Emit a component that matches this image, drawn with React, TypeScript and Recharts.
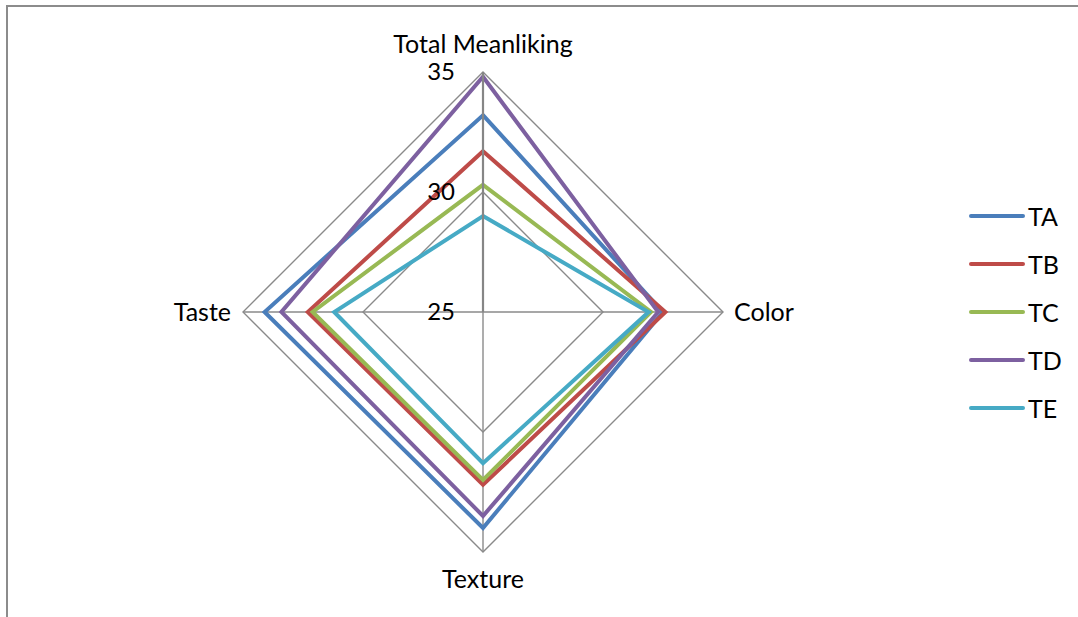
import { RadarChart, Radar, PolarGrid, PolarAngleAxis, PolarRadiusAxis, Legend } from "recharts";

const ATTRIBUTES = ["Total Meanliking", "Color", "Texture", "Taste"];
const TA = [33.2, 32.5, 34.0, 34.1];
const TB = [31.7, 32.6, 32.2, 32.3];
const TC = [30.3, 32.0, 32.0, 32.1];
const TD = [34.8, 32.3, 33.5, 33.4];
const TE = [29.0, 31.9, 31.3, 31.2];
const RADIUS_TICKS = [25, 30, 35];

const SERIES = [
  { name: "TA", values: TA, color: "#4A7EBB" },
  { name: "TB", values: TB, color: "#BE4B48" },
  { name: "TC", values: TC, color: "#98B954" },
  { name: "TD", values: TD, color: "#7D60A0" },
  { name: "TE", values: TE, color: "#46AAC5" },
];

const CX = 483;
const CY = 312;
const FONT = "Lato, 'Open Sans', sans-serif";

const chartData = ATTRIBUTES.map((attr, i) => {
  const row: any = { attr };
  SERIES.forEach((s) => (row[s.name] = s.values[i]));
  return row;
});

const AngleTick = ({ x, y, payload, textAnchor }: any) => {
  let tx = x;
  let ty = y;
  if (textAnchor === "start") {
    tx = x + 3;
    ty = y + 9;
  } else if (textAnchor === "end") {
    tx = x - 4;
    ty = y + 9;
  } else if (y < CY) {
    ty = y - 11;
  } else {
    ty = y + 28;
  }
  return (
    <text x={tx} y={ty} textAnchor={textAnchor} fill="#000" fontSize={25} fontFamily={FONT}>
      {payload.value}
    </text>
  );
};

const RadiusTick = ({ x, y, payload }: any) => (
  <text x={x - 28} y={y + 8} textAnchor="end" fill="#000" fontSize={24} fontFamily={FONT}>
    {payload.value}
  </text>
);

const LegendBox = ({ payload }: any) => (
  <div style={{ fontFamily: FONT, fontSize: 25 }}>
    {(payload || []).map((item: any) => (
      <div key={item.value} style={{ display: "flex", alignItems: "center", height: 48 }}>
        <div style={{ width: 56, height: 4, borderRadius: 2, background: item.color }} />
        <span style={{ marginLeft: 3, color: "#000" }}>{item.value}</span>
      </div>
    ))}
  </div>
);

export default function App() {
  return (
    <div style={{ position: "absolute", left: 0, top: 0, width: 1078, height: 617, background: "#fff" }}>
      <div
        style={{
          position: "absolute",
          left: 6,
          top: 5,
          width: 1072,
          height: 612,
          borderTop: "2px solid #8c8c8c",
          borderLeft: "2px solid #8c8c8c",
          boxSizing: "border-box",
        }}
      />
      <RadarChart
        width={1078}
        height={617}
        data={chartData}
        cx={CX}
        cy={CY}
        outerRadius={240}
        style={{ position: "absolute", left: 0, top: 0 }}
      >
        <PolarGrid gridType="polygon" stroke="#8a8a8a" strokeWidth={1.4} />
        <PolarAngleAxis dataKey="attr" tick={<AngleTick />} tickLine={false} axisLine={false} />
        <PolarRadiusAxis
          angle={90}
          domain={[25, 35]}
          ticks={RADIUS_TICKS}
          tick={<RadiusTick />}
          tickLine={false}
          axisLine={{ stroke: "#868686", strokeWidth: 2.2 }}
          type="number"
        />
        {SERIES.map((s) => (
          <Radar
            key={s.name}
            name={s.name}
            dataKey={s.name}
            stroke={s.color}
            strokeWidth={4}
            fill="none"
            fillOpacity={0}
            dot={false}
            isAnimationActive={false}
          />
        ))}
        <Legend
          layout="vertical"
          content={<LegendBox />}
          wrapperStyle={{ left: 969, top: 192, width: 100, bottom: "auto", right: "auto" }}
        />
      </RadarChart>
    </div>
  );
}
